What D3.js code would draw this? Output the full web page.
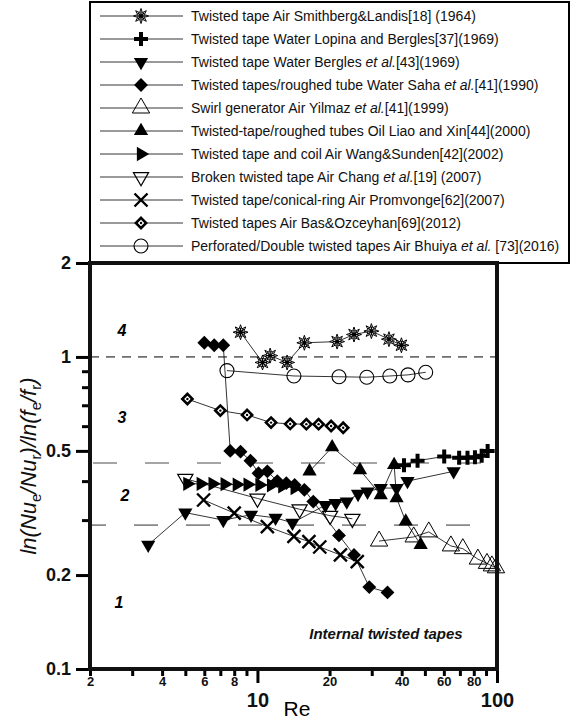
<!DOCTYPE html>
<html>
<head>
<meta charset="utf-8">
<script src="https://cdn.jsdelivr.net/npm/d3@7"></script>
<style>
  body { margin: 0; background: #fff; }
  text { font-family: "Liberation Sans", Arial, sans-serif; }
</style>
</head>
<body>
<svg id="chart" width="579" height="722"></svg>
<script>
// ---- data ----
const legendLabels = [
  "Twisted tape Air Smithberg&Landis[18] (1964)",
  "Twisted tape Water Lopina and Bergles[37](1969)",
  "Twisted tape Water Bergles et al.[43](1969)",
  "Twisted tapes/roughed tube Water Saha et al.[41](1990)",
  "Swirl generator Air Yilmaz et al.[41](1999)",
  "Twisted-tape/roughed tubes Oil Liao and Xin[44](2000)",
  "Twisted tape and coil Air Wang&Sunden[42](2002)",
  "Broken twisted tape Air Chang et al.[19] (2007)",
  "Twisted tape/conical-ring Air Promvonge[62](2007)",
  "Twisted tapes Air Bas&Ozceyhan[69](2012)",
  "Perforated/Double twisted tapes Air Bhuiya et al. [73](2016)"
];

const smithbergRe  = [8.5, 10.5, 11.3, 13.3, 15.7, 21.5, 25.3, 29.9, 35.4, 39.9];
const smithbergVal = [1.2, 0.96, 1.01, 0.96, 1.11, 1.12, 1.18, 1.21, 1.14, 1.09];

const lopinaRe  = [40.9, 46.6, 60.2, 69.5, 75.3, 80.9, 86.3, 91.4];
const lopinaVal = [0.45, 0.465, 0.48, 0.475, 0.475, 0.477, 0.482, 0.50];

const berglesRe  = [3.5, 5.0, 7.2, 9.4, 11.9, 14.0, 19.2, 21.2, 23.6, 26.3, 28.8, 32.7, 38.1, 42.3, 65.9];
const berglesVal = [0.25, 0.317, 0.30, 0.312, 0.305, 0.294, 0.335, 0.34, 0.344, 0.364, 0.37, 0.38, 0.38, 0.40, 0.43];

const sahaRe  = [6.0, 6.6, 7.2, 7.7, 8.5, 9.35, 10.1, 11.0, 12.1, 13.2, 14.3, 15.7, 17.1, 21.9, 25.3, 29.3, 34.9];
const sahaVal = [1.11, 1.09, 1.09, 0.50, 0.497, 0.465, 0.424, 0.43, 0.40, 0.394, 0.389, 0.375, 0.344, 0.268, 0.232, 0.183, 0.176];

const yilmazRe  = [32.2, 44.9, 51.9, 64.2, 72.0, 83.2, 90.8, 95.2, 99.0];
const yilmazVal = [0.257, 0.265, 0.275, 0.248, 0.243, 0.225, 0.218, 0.214, 0.211];

const liaoRe  = [16.5, 20.5, 26.8, 32.7, 37.2, 38.1, 41.6, 48.0];
const liaoVal = [0.43, 0.514, 0.434, 0.361, 0.451, 0.353, 0.297, 0.25];

const wangRe  = [5.1, 5.8, 6.5, 7.3, 8.2, 9.1, 10.2, 11.4, 12.7, 14.3];
const wangVal = [0.392, 0.392, 0.392, 0.391, 0.39, 0.39, 0.389, 0.388, 0.385, 0.38];

const changRe  = [5.0, 10.0, 15.0, 20.1, 24.9];
const changVal = [0.407, 0.352, 0.325, 0.31, 0.303];

const promRe  = [5.96, 8.0, 11.0, 14.2, 16.4, 18.2, 22.2, 26.1];
const promVal = [0.348, 0.316, 0.286, 0.266, 0.256, 0.246, 0.232, 0.221];

const basRe  = [5.1, 7.0, 9.05, 11.4, 13.7, 16.0, 18.0, 20.3, 22.8];
const basVal = [0.733, 0.673, 0.652, 0.616, 0.61, 0.609, 0.609, 0.601, 0.593];

const bhuiyaRe  = [7.46, 14.2, 21.9, 28.6, 35.7, 42.5, 50.4];
const bhuiyaVal = [0.904, 0.869, 0.864, 0.861, 0.869, 0.876, 0.893];

const refLevels = [1, 0.457, 0.289];
const xTicks = [2, 3, 4, 5, 6, 7, 8, 9, 10, 20, 30, 40, 50, 60, 70, 80, 90, 100];
const xTickLabels = [2, 4, 6, 8, 10, 20, 40, 60, 80, 100];
const yTicks = [0.1, 0.2, 0.3, 0.4, 0.5, 0.6, 0.7, 0.8, 0.9, 1, 2];
const yTickLabels = [0.1, 0.2, 0.5, 1, 2];
const regionNames = ["4", "3", "2", "1"];
const regionRe  = [2.72, 2.72, 2.8, 2.64];
const regionVal = [1.22, 0.642, 0.361, 0.163];

// ---- layout ----
const L = 90, R = 497, T = 263, B = 669;
const svg = d3.select('#chart');

const x = d3.scaleLog().domain([2, 100]).range([L, R]);
const y = d3.scaleLog().domain([0.1, 2]).range([B, T]);

const series = [
  {re: smithbergRe, val: smithbergVal, mark: 'star'},
  {re: lopinaRe, val: lopinaVal, mark: 'plus'},
  {re: berglesRe, val: berglesVal, mark: 'tdown'},
  {re: sahaRe, val: sahaVal, mark: 'diamond'},
  {re: yilmazRe, val: yilmazVal, mark: 'tupOpen'},
  {re: liaoRe, val: liaoVal, mark: 'tup'},
  {re: wangRe, val: wangVal, mark: 'tright'},
  {re: changRe, val: changVal, mark: 'tdownOpen'},
  {re: promRe, val: promVal, mark: 'x'},
  {re: basRe, val: basVal, mark: 'dotDiamond'},
  {re: bhuiyaRe, val: bhuiyaVal, mark: 'circle'}
];

function drawMarker(g, type) {
  const tri = d3.symbol().type(d3.symbolTriangle);
  if (type === 'star') {
    const pts = d3.range(16).map(i => {
      const a = -Math.PI / 2 + i * Math.PI / 8, r = i % 2 ? 3.6 : 7.5;
      return [r * Math.cos(a), r * Math.sin(a)];
    });
    g.append('path').attr('d', 'M' + pts.join('L') + 'Z')
      .attr('fill', '#fff').attr('stroke', '#000').attr('stroke-width', 1);
    g.append('path').attr('d', 'M-4.5,0H4.5M0,-4.5V4.5M-3.2,-3.2L3.2,3.2M-3.2,3.2L3.2,-3.2')
      .attr('stroke', '#000').attr('stroke-width', 1.3);
  } else if (type === 'plus') {
    g.append('path').attr('d', 'M-7,0H7M0,-7V7').attr('stroke', '#000').attr('stroke-width', 4);
  } else if (type === 'tdown') {
    g.append('path').attr('d', tri.size(88)()).attr('transform', 'rotate(180)').attr('fill', '#000');
  } else if (type === 'tup') {
    g.append('path').attr('d', tri.size(88)()).attr('fill', '#000');
  } else if (type === 'tright') {
    g.append('path').attr('d', tri.size(88)()).attr('transform', 'rotate(90)').attr('fill', '#000');
  } else if (type === 'tupOpen') {
    g.append('path').attr('d', tri.size(130)()).attr('fill', 'none').attr('stroke', '#000').attr('stroke-width', 1);
  } else if (type === 'tdownOpen') {
    g.append('path').attr('d', tri.size(100)()).attr('transform', 'rotate(180)')
      .attr('fill', 'none').attr('stroke', '#000').attr('stroke-width', 1.2);
  } else if (type === 'diamond') {
    g.append('path').attr('d', d3.symbol().type(d3.symbolSquare).size(96)()).attr('transform', 'rotate(45)').attr('fill', '#000');
  } else if (type === 'dotDiamond') {
    g.append('path').attr('d', d3.symbol().type(d3.symbolSquare).size(52)()).attr('transform', 'rotate(45)')
      .attr('fill', '#fff').attr('stroke', '#000').attr('stroke-width', 2.6);
    g.append('circle').attr('r', 1.2).attr('fill', '#000');
  } else if (type === 'x') {
    g.append('path').attr('d', 'M-6.5,-6.5L6.5,6.5M-6.5,6.5L6.5,-6.5').attr('stroke', '#000').attr('stroke-width', 2.4);
  } else if (type === 'circle') {
    g.append('circle').attr('r', 7).attr('fill', 'none').attr('stroke', '#000').attr('stroke-width', 1.1);
  }
}

// legend box (its bottom edge is the plot's top edge)
svg.append('rect').attr('x', L).attr('y', 2).attr('width', 569 - L).attr('height', T - 2)
  .attr('fill', '#fff').attr('stroke', '#000').attr('stroke-width', 2);

const legend = svg.append('g');
legendLabels.forEach((lab, i) => {
  const ly = 16 + i * 23;
  legend.append('line').attr('x1', 100).attr('x2', 183).attr('y1', ly).attr('y2', ly)
    .attr('stroke', '#000').attr('stroke-width', 0.8);
  drawMarker(legend.append('g').attr('transform', `translate(141,${ly})`), series[i].mark);
  const t = legend.append('text').attr('x', 191).attr('y', ly).attr('dy', '0.35em')
    .attr('font-size', 14).attr('fill', '#111');
  const parts = lab.split('et al.');
  parts.forEach((p, k) => {
    t.append('tspan').text(p);
    if (k < parts.length - 1) t.append('tspan').attr('font-style', 'italic').text('et al.');
  });
});

// reference lines
svg.append('line').attr('x1', L).attr('x2', R).attr('y1', y(refLevels[0])).attr('y2', y(refLevels[0]))
  .attr('stroke', '#000').attr('stroke-width', 1).attr('stroke-dasharray', '9,7');
svg.append('line').attr('x1', L).attr('x2', R).attr('y1', y(refLevels[1])).attr('y2', y(refLevels[1]))
  .attr('stroke', '#888').attr('stroke-width', 1.6).attr('stroke-dasharray', '24,28').attr('stroke-dashoffset', -3);
svg.append('line').attr('x1', L).attr('x2', R).attr('y1', y(refLevels[2])).attr('y2', y(refLevels[2]))
  .attr('stroke', '#888').attr('stroke-width', 1.6).attr('stroke-dasharray', '24,28').attr('stroke-dashoffset', 8);

// series lines then markers
const line = d3.line().x(d => x(d[0])).y(d => y(d[1]));
series.forEach(s => {
  svg.append('path').datum(d3.zip(s.re, s.val)).attr('d', line)
    .attr('fill', 'none').attr('stroke', '#000').attr('stroke-width', 0.8);
});
series.forEach(s => {
  d3.zip(s.re, s.val).forEach(d => {
    drawMarker(svg.append('g').attr('transform', `translate(${x(d[0])},${y(d[1])})`), s.mark);
  });
});

// axes
const gx = svg.append('g').attr('transform', `translate(0,${B})`)
  .call(d3.axisBottom(x).tickValues(xTicks).tickSizeOuter(0)
    .tickFormat(d => xTickLabels.includes(d) ? d : ''));
gx.select('.domain').remove();
gx.selectAll('.tick line').attr('y2', d => (d === 10 || d === 100) ? 14 : 7).attr('stroke-width', 3);
gx.selectAll('.tick text')
  .attr('y', d => (d === 10 || d === 100) ? 24 : 8)
  .attr('font-size', d => (d === 10 || d === 100) ? 20 : 13)
  .attr('font-weight', 'bold').attr('font-family', '"Liberation Sans", Arial, sans-serif').attr('fill', '#111');

const gy = svg.append('g').attr('transform', `translate(${L},0)`)
  .call(d3.axisLeft(y).tickValues(yTicks).tickSizeOuter(0)
    .tickFormat(d => yTickLabels.includes(d) ? d : ''));
gy.select('.domain').remove();
gy.selectAll('.tick line').attr('x2', d => yTickLabels.includes(d) ? -14 : -8).attr('stroke-width', 3);
gy.selectAll('.tick text').attr('x', -19).attr('font-size', 18).attr('font-weight', 'bold')
  .attr('font-family', '"Liberation Sans", Arial, sans-serif').attr('fill', '#111');

// frame
svg.append('rect').attr('x', L).attr('y', T).attr('width', R - L).attr('height', B - T)
  .attr('fill', 'none').attr('stroke', '#111').attr('stroke-width', 4);

// region numbers
regionNames.forEach((n, i) => {
  svg.append('text').attr('x', x(regionRe[i])).attr('y', y(regionVal[i])).attr('dy', '0.35em')
    .attr('text-anchor', 'middle').attr('font-size', 16).attr('font-weight', 'bold')
    .attr('font-style', 'italic').text(n);
});

svg.append('text').attr('x', x(34.4)).attr('y', y(0.13)).attr('dy', '0.35em')
  .attr('text-anchor', 'middle').attr('font-size', 15).attr('font-weight', 'bold')
  .attr('font-style', 'italic').attr('fill', '#111').text('Internal twisted tapes');

// axis titles
svg.append('text').attr('x', 297).attr('y', 716).attr('text-anchor', 'middle')
  .attr('font-family', '"Liberation Serif", "Times New Roman", serif').attr('font-size', 21).text('Re');

const yl = svg.append('text').attr('transform', 'translate(36,466) rotate(-90)')
  .attr('text-anchor', 'middle').attr('font-size', 22).attr('fill', '#111');
[['ln(Nu', 0], ['e', 1], ['/Nu', -1], ['r', 1], [')/ln(', -1], ['f', 0], ['e', 1], ['/f', -1], ['r', 1], [')', -1]]
  .forEach(([s, sub]) => {
    const ts = yl.append('tspan').text(s);
    if (sub === 1) ts.attr('dy', 5).attr('font-size', 15);
    else { ts.attr('font-style', 'italic'); if (sub === -1) ts.attr('dy', -5); }
  });
</script>
</body>
</html>
